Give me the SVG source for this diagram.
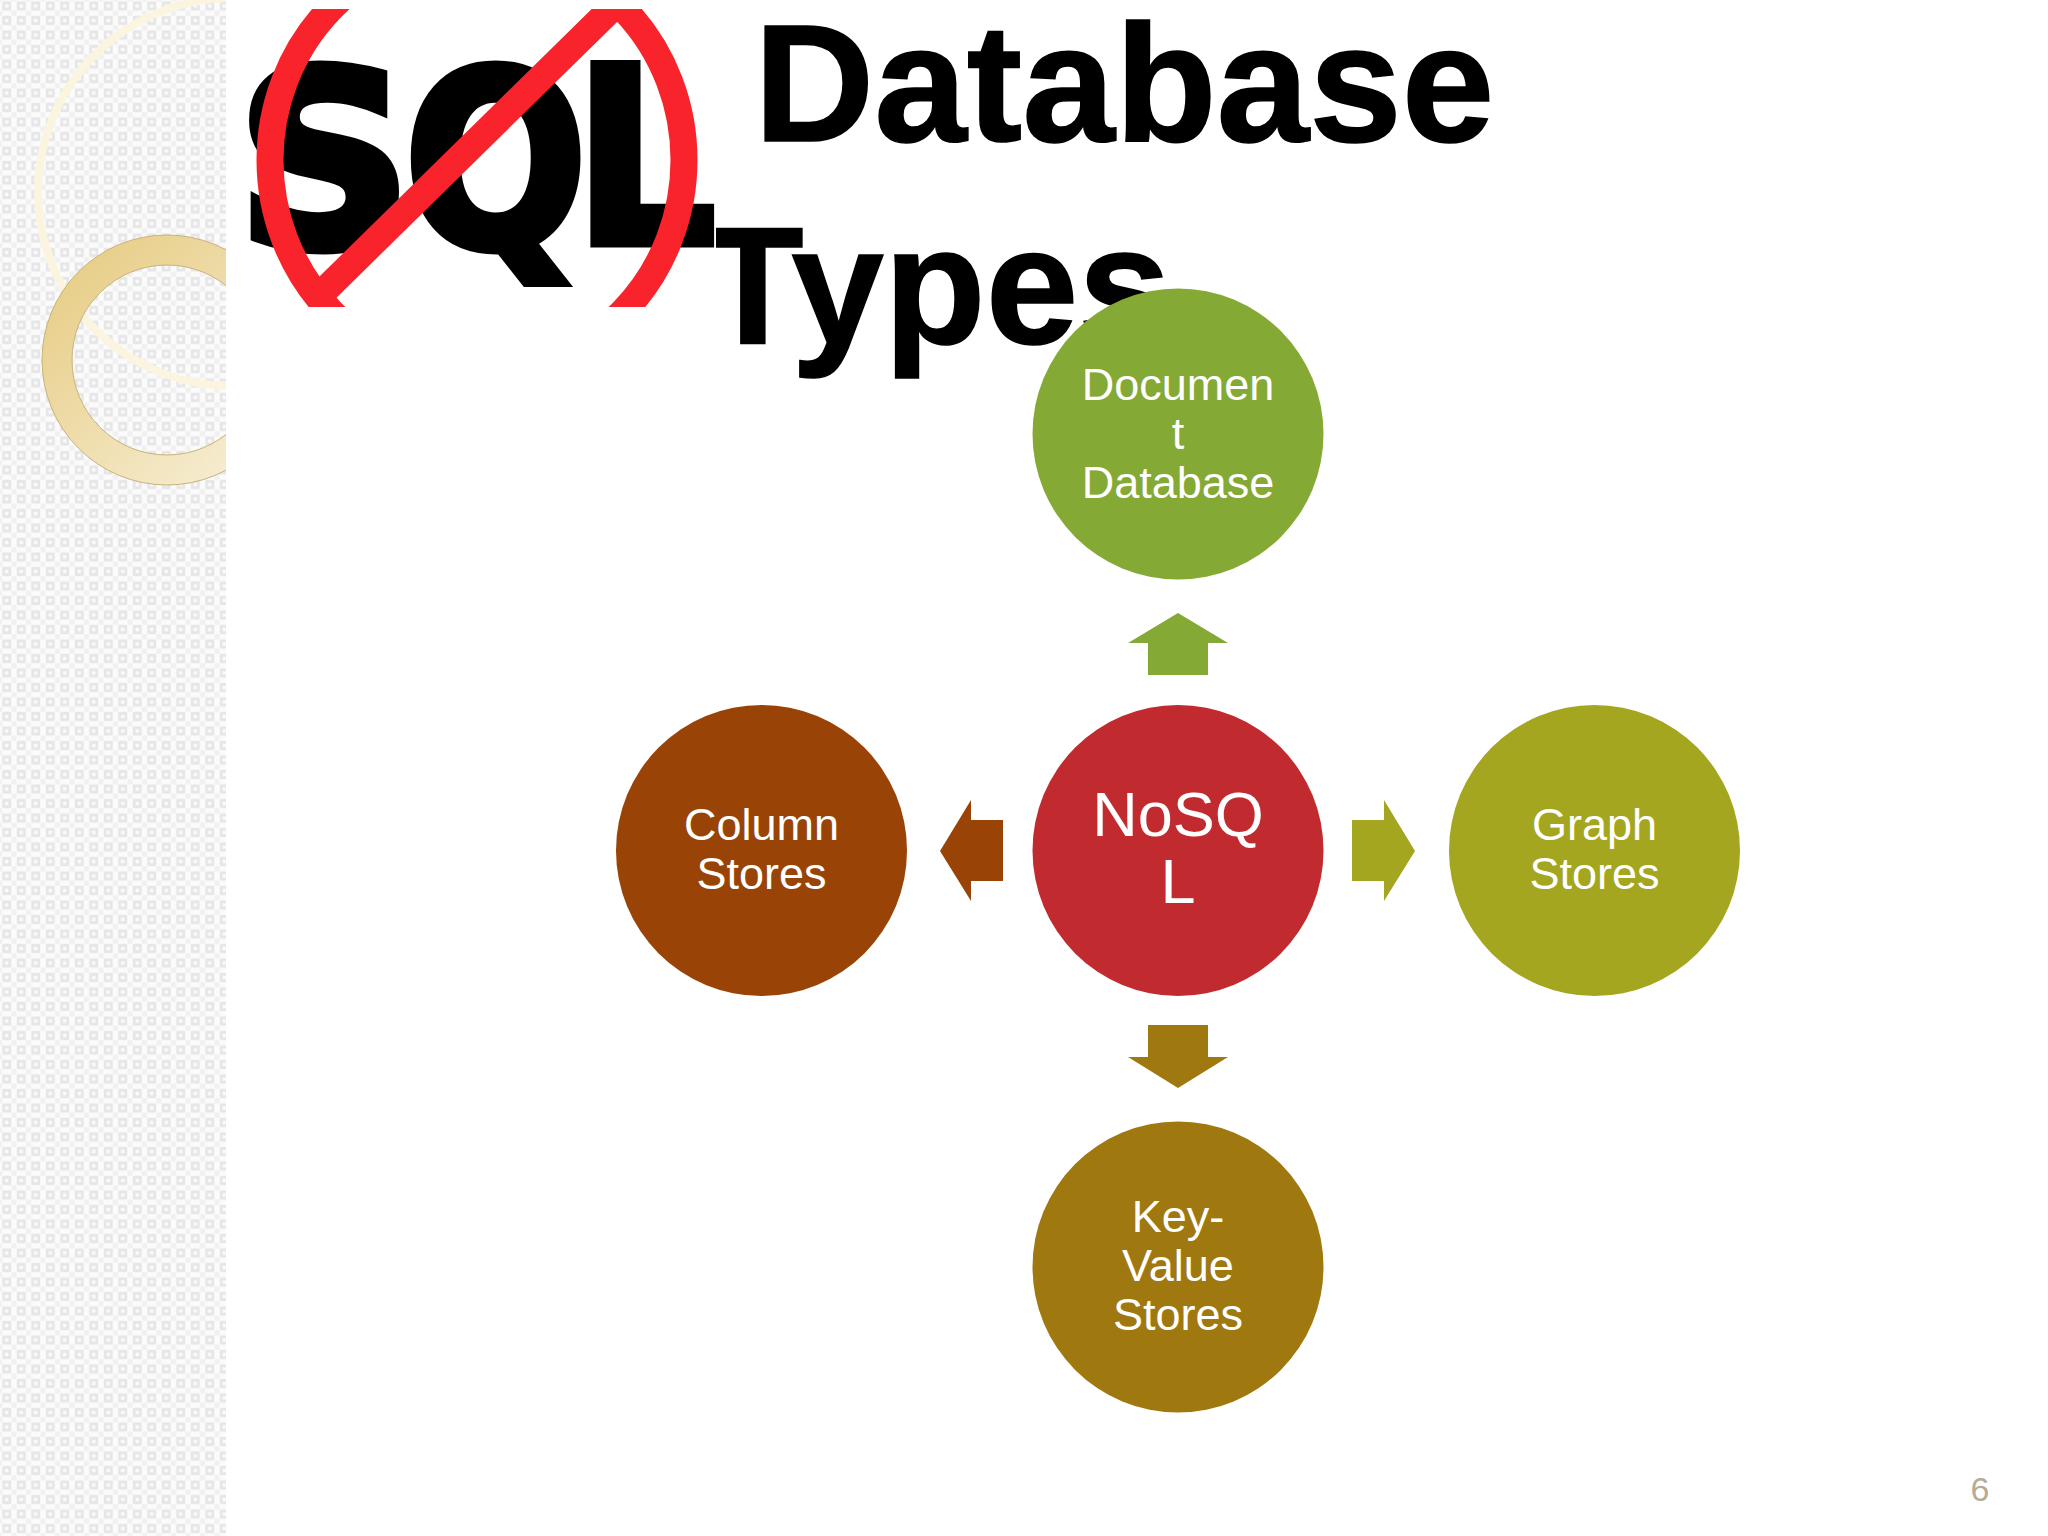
<svg xmlns="http://www.w3.org/2000/svg" width="2048" height="1536" viewBox="0 0 2048 1536">
<defs>
<pattern id="tile" width="14.5" height="14.5" patternUnits="userSpaceOnUse" patternTransform="translate(-0.5 -1.25)">
<rect width="14.5" height="14.5" fill="#fbfbfb"/>
<rect x="0" y="0" width="2.5" height="2.5" fill="#f0f0f1"/>
<rect x="12" y="12" width="2.5" height="2.5" fill="#f0f0f1"/>
<rect x="12" y="0" width="2.5" height="2.5" fill="#f0f0f1"/>
<rect x="0" y="12" width="2.5" height="2.5" fill="#f0f0f1"/>
<rect x="2.75" y="2.75" width="9" height="9" rx="1" fill="#e6e6e8"/>
<rect x="5.5" y="5.5" width="3.5" height="3.5" fill="#fafafa"/>
</pattern>
<linearGradient id="ring" x1="0.1" y1="0.1" x2="0.9" y2="0.95">
<stop offset="0" stop-color="#E8CF8B"/>
<stop offset="1" stop-color="#F6EDD1"/>
</linearGradient>
<clipPath id="logoClip"><rect x="226" y="9" width="490" height="298"/></clipPath>
</defs>
<style>
.n{font-family:"Liberation Sans",Arial,sans-serif;font-size:45px;fill:#fff;text-anchor:middle}
.t{font-family:"Liberation Sans",Arial,sans-serif;font-size:166.5px;font-weight:700;fill:#000;stroke:#000;stroke-width:1.5px}
.q{font-family:"DejaVu Sans",sans-serif;font-weight:700;font-size:245px;fill:#000;stroke:#000;stroke-width:9px}
</style>
<rect width="2048" height="1536" fill="#fff"/>
<g id="sidebar">
<rect width="226" height="1536" fill="url(#tile)"/>
<circle cx="232" cy="192" r="194" fill="none" stroke="#FBF5E0" stroke-width="8"/>
<circle cx="167" cy="360" r="110" fill="none" stroke="url(#ring)" stroke-width="30"/>
<circle cx="167" cy="360" r="125" fill="none" stroke="#C9B27A" stroke-width="1"/>
<circle cx="167" cy="360" r="95" fill="none" stroke="#C9B27A" stroke-width="1"/>
<rect x="226" y="0" width="1822" height="1536" fill="#fff"/>
</g>
<g id="title">
<text class="t" x="754" y="141">Database</text>
<text class="t" x="702" y="343">Types</text>
</g>
<g id="logo">
<rect x="226" y="0" width="490" height="307" fill="#fff"/>
<g clip-path="url(#logoClip)">
<text class="q" transform="translate(236 247)" x="0" y="0">S</text>
<text class="q" transform="translate(404 247) scale(.88 1)" x="0" y="0">Q</text>
<text class="q" transform="translate(574 243) scale(.91 1)" x="0" y="0">L</text>
<g fill="none" stroke="#F8232B" stroke-width="27">
<ellipse cx="477" cy="160" rx="207" ry="214"/>
<line x1="322" y1="293" x2="615" y2="5"/>
</g>
</g>
</g>
<g id="connectors">
<polygon fill="#85A935" points="1178,613 1228,643 1208,643 1208,675 1148,675 1148,643 1128,643"/>
<polygon fill="#A07810" points="1178,1088 1228,1057 1208,1057 1208,1025 1148,1025 1148,1057 1128,1057"/>
<polygon fill="#994406" points="940,851 971,800 971,820 1003,820 1003,881 971,881 971,901"/>
<polygon fill="#A5A61F" points="1415,851 1384,800 1384,820 1352,820 1352,881 1384,881 1384,901"/>
</g>
<g id="node-nosql">
<circle cx="1178" cy="850.5" r="145.5" fill="#C12B2F"/>
<text class="n" style="font-size:63px" x="1178" y="836">NoSQ</text>
<text class="n" style="font-size:63px" x="1178" y="903">L</text>
</g>
<g id="node-document">
<circle cx="1178" cy="434" r="145.5" fill="#85A935"/>
<text class="n" x="1178" y="400">Documen</text>
<text class="n" x="1178" y="449">t</text>
<text class="n" x="1178" y="498">Database</text>
</g>
<g id="node-keyvalue">
<circle cx="1178" cy="1267" r="145.5" fill="#A07810"/>
<text class="n" x="1178" y="1232">Key-</text>
<text class="n" x="1178" y="1281">Value</text>
<text class="n" x="1178" y="1330">Stores</text>
</g>
<g id="node-column">
<circle cx="761.5" cy="850.5" r="145.5" fill="#994406"/>
<text class="n" x="761.5" y="840">Column</text>
<text class="n" x="761.5" y="889">Stores</text>
</g>
<g id="node-graph">
<circle cx="1594.5" cy="850.5" r="145.5" fill="#A5A61F"/>
<text class="n" x="1594.5" y="840">Graph</text>
<text class="n" x="1594.5" y="889">Stores</text>
</g>
<text id="page" x="1980" y="1501" font-family="Liberation Sans" font-size="34" fill="#B5AC93" text-anchor="middle">6</text>
</svg>
